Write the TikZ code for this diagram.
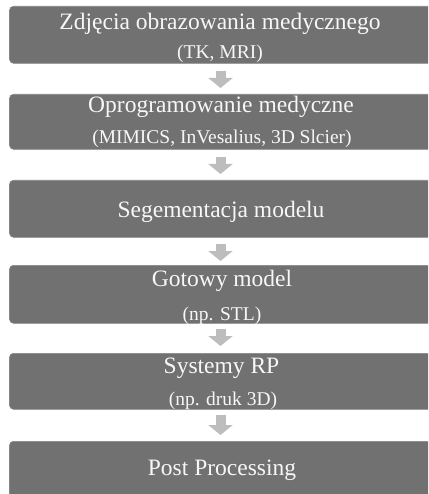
\documentclass[tikz,border=0pt]{standalone}
\usepackage{fontspec}
\setmainfont{Liberation Serif}
\usetikzlibrary{arrows.meta}
\definecolor{boxgray}{HTML}{717171}
\definecolor{arrgray}{HTML}{BDBDBD}
\definecolor{txtwhite}{HTML}{F7F7F7}
\begin{document}
\begin{tikzpicture}[x=1pt,y=1pt,
  box/.style={fill=boxgray, draw=boxgray!85!white, line width=0.6pt, rounded corners=4pt,
    minimum width=422pt, inner sep=0pt, anchor=north},
  mainline/.style={text=txtwhite, font=\fontsize{23.5}{28}\selectfont, anchor=base, inner sep=0pt},
  subline/.style={text=txtwhite, font=\fontsize{19.5}{23}\selectfont, anchor=base, inner sep=0pt},
  flow/.style={draw=arrgray, line width=10pt, -{Triangle[width=24pt,length=10pt]}}
]
\useasboundingbox (0,0) rectangle (428,-494);
\clip (0,0) rectangle (428,-494);
% boxes
\node[box, minimum height=57pt] (b1) at (220.5,-6) {};
\node[box, minimum height=55pt] (b2) at (220.5,-94) {};
\node[box, minimum height=57pt] (b3) at (220.5,-180) {};
\node[box, minimum height=58pt] (b4) at (220.5,-265) {};
\node[box, minimum height=56pt] (b5) at (220.5,-353) {};
\node[box, minimum height=60pt] (b6) at (220.5,-441) {};
% texts
\node[mainline] (t1a) at (220,-29.5) {Zdjęcia obrazowania medycznego};
\node[subline]  (t1b) at (220,-58.3) {(TK, MRI)};
\node[mainline] (t2a) at (221,-113) {Oprogramowanie medyczne};
\node[subline]  (t2b) at (222,-143.5) {(MIMICS, InVesalius, 3D Slcier)};
\node[mainline] (t3a) at (221,-217) {Segementacja modelu};
\node[mainline] (t4a) at (222,-286.7) {Gotowy model};
\node[subline]  (t4b) at (222,-320) {(np. STL)};
\node[mainline] (t5a) at (221.5,-373.5) {Systemy RP};
\node[subline]  (t5b) at (223,-405) {(np. druk 3D)};
\node[mainline] (t6a) at (222,-475) {Post Processing};
% arrows
\draw[flow] ([yshift=-7pt]b1.south) -- ([yshift=6pt]b2.north);
\draw[flow] ([yshift=-7pt]b2.south) -- ([yshift=6pt]b3.north);
\draw[flow] ([yshift=-6pt]b3.south) -- ([yshift=4pt]b4.north);
\draw[flow] ([yshift=-5pt]b4.south) -- ([yshift=7pt]b5.north);
\draw[flow] ([yshift=-5pt]b5.south) -- ([yshift=6pt]b6.north);
\end{tikzpicture}
\end{document}
